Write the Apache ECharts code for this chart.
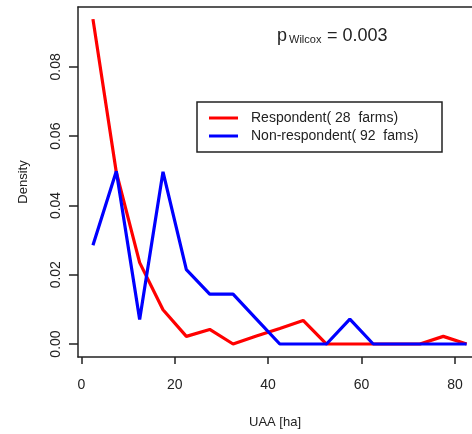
<!DOCTYPE html>
<html>
<head>
<meta charset="utf-8">
<script src="https://cdn.jsdelivr.net/npm/echarts@6/dist/echarts.min.js"></script>
<style>
html,body{margin:0;padding:0;background:#fff;}
#chart{width:472px;height:434px;}
</style>
</head>
<body>
<div id="chart"></div>
<script>
// Bin midpoints (UAA, ha)
const uaaMid = [2.5, 7.5, 12.5, 17.5, 22.5, 27.5, 32.5, 37.5, 42.5, 47.5, 52.5, 57.5, 62.5, 67.5, 72.5, 77.5, 82.5];
// Density values
const respondent = [0.0938, 0.0496, 0.0235, 0.0099, 0.0022, 0.0042, 0.0000, 0.0023, 0.0045, 0.0068, 0.0000, 0.0000, 0.0000, 0.0000, 0.0000, 0.0022, 0.0000];
const nonRespondent = [0.0285, 0.0499, 0.0071, 0.0497, 0.0215, 0.0144, 0.0144, 0.0072, 0.0000, 0.0000, 0.0000, 0.0072, 0.0000, 0.0000, 0.0000, 0.0000, 0.0000];
const seriesNames = ['Respondent( 28  farms)', 'Non-respondent( 92  fams)'];
const xTicks = [0, 20, 40, 60, 80];
const yTicks = [0, 0.02, 0.04, 0.06, 0.08];

const font = 'Liberation Sans, Arial, sans-serif';
const ink = '#222';
const chart = echarts.init(document.getElementById('chart'), null, {renderer: 'canvas'});
const pairs = vals => uaaMid.map((x, i) => [x, vals[i]]);

chart.setOption({
  animation: false,
  backgroundColor: '#fff',
  grid: {left: 78, top: 7, right: 0, bottom: 76.5, show: false},
  xAxis: [{
    type: 'value', min: -0.7, max: 83.65, position: 'bottom',
    axisLine: {show: true, onZero: false, lineStyle: {color: ink, width: 1.5}},
    splitLine: {show: false},
    axisTick: {show: true, customValues: xTicks, length: 7, lineStyle: {color: ink, width: 1.5}},
    axisLabel: {customValues: xTicks, margin: 21, color: ink, fontSize: 14, fontFamily: font},
    name: 'UAA [ha]', nameLocation: 'middle', nameGap: 59,
    nameTextStyle: {color: ink, fontSize: 13, fontFamily: font}
  }, {
    type: 'value', min: -0.7, max: 83.65, position: 'top',
    axisLine: {show: true, onZero: false, lineStyle: {color: ink, width: 1.5}},
    splitLine: {show: false}, axisTick: {show: false}, axisLabel: {show: false}
  }],
  yAxis: {
    type: 'value', min: -0.00375, max: 0.0973,
    axisLine: {show: true, onZero: false, lineStyle: {color: ink, width: 1.5}},
    splitLine: {show: false},
    axisTick: {show: true, customValues: yTicks, length: 9, lineStyle: {color: ink, width: 1.5}},
    axisLabel: {customValues: yTicks, rotate: 90, margin: 15, color: ink, fontSize: 14, fontFamily: font,
      formatter: v => v.toFixed(2)},
    name: 'Density', nameLocation: 'middle', nameGap: 48,
    nameTextStyle: {color: ink, fontSize: 13, fontFamily: font}
  },
  legend: {
    orient: 'vertical', left: 197, top: 102,
    data: seriesNames,
    icon: 'rect', itemWidth: 29, itemHeight: 3, itemGap: 2,
    padding: [8, 4, 8, 12],
    borderColor: ink, borderWidth: 1.5, backgroundColor: '#fff',
    textStyle: {color: ink, fontSize: 14, fontFamily: font, width: 187, lineHeight: 16, padding: [0, 0, 0, 8]}
  },
  series: [
    {name: seriesNames[0], type: 'line', data: pairs(respondent), showSymbol: false, symbol: 'none',
     lineStyle: {color: '#ff0000', width: 3.2}, itemStyle: {color: '#ff0000'}, z: 2},
    {name: seriesNames[1], type: 'line', data: pairs(nonRespondent), showSymbol: false, symbol: 'none',
     lineStyle: {color: '#0000ff', width: 3.2}, itemStyle: {color: '#0000ff'}, z: 3}
  ],
  graphic: [
    {type: 'text', left: 277, top: 27, style: {text: 'p', fontSize: 18, fontFamily: font, fill: ink}},
    {type: 'text', left: 289, top: 34, style: {text: 'Wilcox', fontSize: 11, fontFamily: font, fill: ink}},
    {type: 'text', left: 327, top: 27, style: {text: '= 0.003', fontSize: 18, fontFamily: font, fill: ink}}
  ]
});
</script>
</body>
</html>
